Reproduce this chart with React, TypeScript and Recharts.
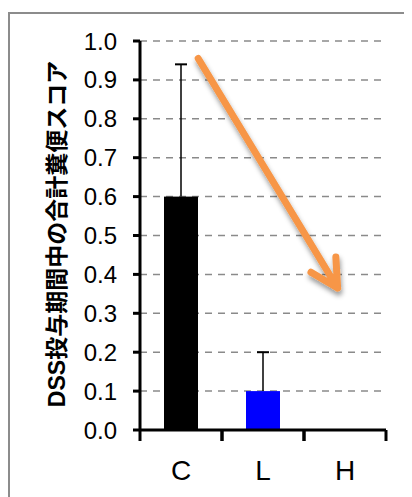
import React from 'react';
import { BarChart, Bar, XAxis, YAxis, CartesianGrid, ReferenceLine, LineChart } from 'recharts';

const categories = ['C', 'L', 'H'];
const means = [0.6, 0.1, 0];
const errors = [0.34, 0.1, 0];
const barColors = ['#000000', '#0000ff', '#000000'];
const yTicks = [0, 0.1, 0.2, 0.3, 0.4, 0.5, 0.6, 0.7, 0.8, 0.9, 1.0];
const yLabel = 'DSS投与期間中の合計糞便スコア';
// arrow annotation in data coordinates (x on a 0..3 category-width scale, y in score units)
const arrowStart = { x: 0.71, y: 0.955 };
const arrowEnd = { x: 2.41, y: 0.365 };

const data = categories.map((name, i) => ({ name, value: means[i], err: errors[i], fill: barColors[i] }));
const arrowData = [arrowStart, arrowEnd];

const CHART_W = 404;
const CHART_H = 485;
const MARGIN = { top: 33, right: 26, left: 72, bottom: 13 };
const Y_AXIS_W = 60;
const X_AXIS_H = 50;
const PLOT_W = CHART_W - MARGIN.left - MARGIN.right - Y_AXIS_W;
const OVERLAY_MARGIN = { top: MARGIN.top, right: MARGIN.right, left: MARGIN.left + Y_AXIS_W, bottom: MARGIN.bottom + X_AXIS_H };
const FONT = '"Liberation Sans", Arial, "Noto Sans CJK JP", sans-serif';

const BarWithError = (props: any) => {
  const { x, y, width, height, payload } = props;
  if (!payload || !payload.value || !height) return null;
  const ppu = height / payload.value;
  const cx = x + width / 2;
  const top = y - payload.err * ppu;
  return (
    <g>
      <rect x={x} y={y} width={width} height={height} fill={payload.fill} />
      {payload.err > 0 && (
        <g>
          <line x1={cx} x2={cx} y1={y} y2={top} stroke="#000" strokeWidth={1.5} />
          <line x1={cx - 6} x2={cx + 6} y1={top} y2={top} stroke="#000" strokeWidth={2} />
        </g>
      )}
    </g>
  );
};

const CategoryTick = (props: any) => {
  const { x, y, payload } = props;
  const half = PLOT_W / categories.length / 2;
  return (
    <g>
      <line x1={x - half} x2={x - half} y1={y} y2={y + 11} stroke="#000" strokeWidth={3} />
      <line x1={x + half} x2={x + half} y1={y} y2={y + 11} stroke="#000" strokeWidth={3} />
      <text x={x} y={y + 50} textAnchor="middle" fontSize={28} fill="#000" fontFamily={FONT}>
        {payload.value}
      </text>
    </g>
  );
};

const YLabel = () => (
  <text
    x={0}
    y={0}
    transform="translate(49,226) rotate(-90)"
    textAnchor="middle"
    dominantBaseline="central"
    fontSize={23}
    fontWeight={700}
    fill="#000"
    fontFamily={FONT}
  >
    {yLabel}
  </text>
);

const ArrowShape = (props: any) => {
  const { x1, y1, x2, y2 } = props;
  if ([x1, y1, x2, y2].some((v) => typeof v !== 'number' || isNaN(v))) return null;
  const ang = Math.atan2(y1 - y2, x1 - x2);
  const len = 31;
  const spread = (28 * Math.PI) / 180;
  const w1x = x2 + len * Math.cos(ang + spread);
  const w1y = y2 + len * Math.sin(ang + spread);
  const w2x = x2 + len * Math.cos(ang - spread);
  const w2y = y2 + len * Math.sin(ang - spread);
  return (
    <g filter="url(#arrowShadow)">
      <path
        d={`M${x1},${y1} L${x2},${y2} M${w1x},${w1y} L${x2},${y2} L${w2x},${w2y}`}
        stroke="#F79646"
        strokeWidth={7}
        strokeLinecap="round"
        strokeLinejoin="round"
        fill="none"
      />
    </g>
  );
};

export default function App() {
  return (
    <div style={{ position: 'relative', width: CHART_W, height: 489 }}>
      <style>{'html,body{overflow:hidden}'}</style>
      <div
        style={{
          position: 'absolute',
          left: 0,
          top: 4,
          width: 420,
          height: 500,
          borderTop: '2px solid #8c8c8c',
          borderLeft: '2px solid #8c8c8c',
          boxSizing: 'border-box',
        }}
      />
      <div style={{ position: 'absolute', left: 0, top: 0 }}>
        <BarChart width={CHART_W} height={CHART_H} data={data} margin={MARGIN}>
          <CartesianGrid vertical={false} stroke="#8a8a8a" strokeWidth={1.5} strokeDasharray="7 6" />
          <XAxis
            dataKey="name"
            height={X_AXIS_H}
            axisLine={{ stroke: '#000', strokeWidth: 3 }}
            tickLine={false}
            tickSize={0}
            tickMargin={0}
            tick={<CategoryTick />}
            interval={0}
          />
          <YAxis
            width={Y_AXIS_W}
            domain={[0, 1]}
            ticks={yTicks}
            interval={0}
            allowDataOverflow
            tickFormatter={(v: number) => v.toFixed(1)}
            axisLine={{ stroke: '#000', strokeWidth: 3 }}
            tickLine={{ stroke: '#000', strokeWidth: 3 }}
            tickSize={7}
            tickMargin={16}
            tick={{ fontSize: 24, fill: '#000', fontFamily: FONT }}
            label={<YLabel />}
          />
          <Bar dataKey="value" barSize={34} isAnimationActive={false} shape={<BarWithError />} />
        </BarChart>
      </div>
      <div style={{ position: 'absolute', left: 0, top: 0, pointerEvents: 'none' }}>
        <LineChart width={CHART_W} height={CHART_H} data={arrowData} margin={OVERLAY_MARGIN}>
          <defs>
            <filter id="arrowShadow" x="-20%" y="-20%" width="140%" height="140%">
              <feDropShadow dx="1" dy="4" stdDeviation="2.5" floodColor="#000" floodOpacity="0.4" />
            </filter>
          </defs>
          <XAxis dataKey="x" type="number" domain={[0, 3]} allowDataOverflow hide />
          <YAxis type="number" domain={[0, 1]} allowDataOverflow hide />
          <ReferenceLine segment={[arrowStart, arrowEnd]} ifOverflow="visible" shape={<ArrowShape />} />
        </LineChart>
      </div>
    </div>
  );
}
